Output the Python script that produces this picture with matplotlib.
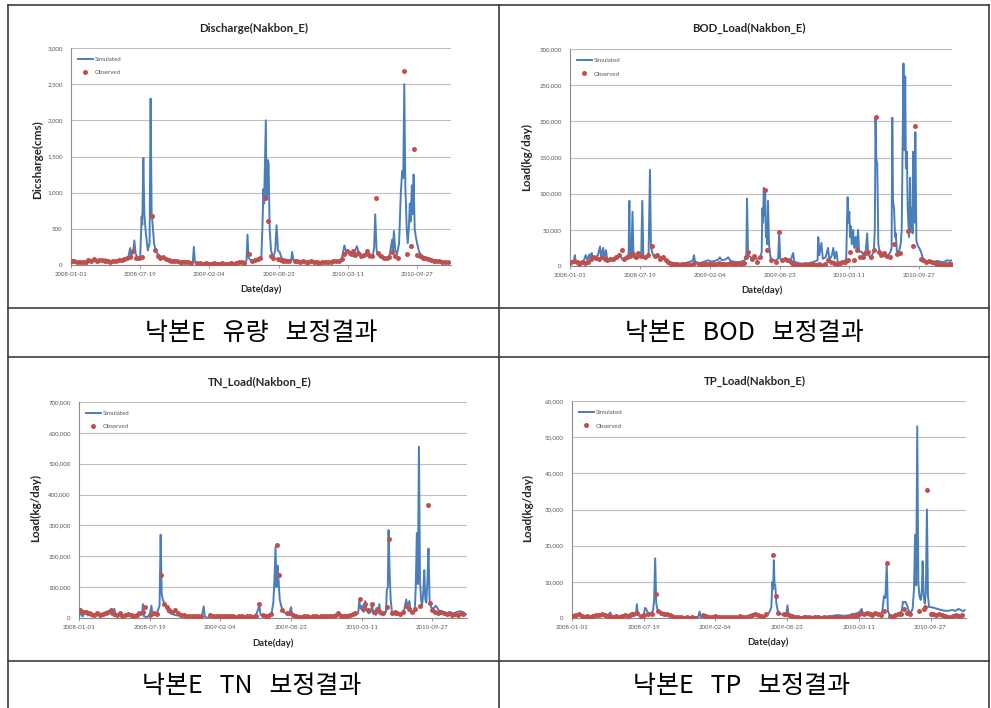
import matplotlib
matplotlib.use("Agg")
import matplotlib.pyplot as plt
from matplotlib.lines import Line2D
from matplotlib.ticker import FuncFormatter

# ---------------------------------------------------------------------------
# Data (x = days since 2008-01-01)
# ---------------------------------------------------------------------------
x_tick_days = [0, 200, 400, 600, 800, 1000]
x_tick_labels = ["2008-01-01", "2008-07-19", "2009-02-04",
                 "2009-08-23", "2010-03-11", "2010-09-27"]

# Discharge (cms)
q_sim = [(0, 40), (10, 55), (20, 45), (30, 40), (40, 35), (50, 45), (60, 55), (70, 50),
         (80, 70), (90, 60), (100, 80), (110, 55), (120, 45), (130, 50), (140, 60), (150, 70),
         (160, 90), (166, 120), (171, 235), (174, 110), (180, 200), (183, 340), (187, 150),
         (195, 90), (200, 110), (204, 670), (206, 560), (209, 1480), (212, 700), (216, 450),
         (222, 200), (227, 300), (230, 2300), (233, 700), (236, 550), (240, 300), (246, 180),
         (255, 130), (265, 100), (280, 80), (295, 65), (310, 55), (325, 50), (340, 45),
         (352, 40), (355, 250), (358, 40), (370, 25), (390, 20), (410, 20), (430, 20),
         (450, 25), (470, 25), (490, 30), (503, 40), (507, 60), (510, 420), (513, 100),
         (520, 60), (530, 50), (540, 60), (550, 90), (553, 500), (556, 1050), (558, 850),
         (563, 2000), (565, 900), (567, 1100), (569, 1450), (571, 1400), (574, 500),
         (578, 200), (584, 100), (590, 200), (594, 550), (598, 200), (603, 180), (608, 100),
         (615, 80), (625, 70), (636, 60), (639, 180), (643, 60), (650, 50), (670, 45),
         (690, 40), (710, 40), (730, 40), (750, 40), (770, 50), (782, 80), (790, 270),
         (795, 180), (802, 200), (808, 130), (815, 120), (826, 260), (831, 180), (838, 150),
         (845, 120), (855, 180), (862, 100), (872, 120), (876, 250), (879, 700), (883, 200),
         (890, 120), (900, 100), (910, 90), (920, 120), (928, 350), (930, 200), (933, 470),
         (937, 200), (942, 150), (948, 300), (953, 1000), (957, 1300), (960, 1200),
         (963, 2500), (966, 1100), (970, 500), (973, 300), (976, 500), (979, 850), (981, 600),
         (985, 1100), (987, 700), (990, 1250), (993, 500), (996, 400), (1000, 300),
         (1006, 180), (1012, 140), (1020, 110), (1035, 80), (1050, 60), (1065, 50),
         (1080, 40), (1095, 35)]
q_obs = [(2, 50), (10, 60), (18, 45), (26, 40), (34, 35), (42, 45), (50, 70), (58, 60),
         (66, 80), (74, 55), (82, 70), (90, 75), (98, 55), (106, 50), (114, 45), (122, 55),
         (130, 60), (138, 65), (146, 75), (154, 80), (162, 100), (170, 110), (180, 200),
         (188, 90), (196, 100), (204, 110), (235, 680), (243, 210), (250, 120), (258, 100),
         (266, 110), (274, 80), (282, 70), (290, 60), (298, 55), (306, 50), (314, 45),
         (322, 40), (330, 40), (338, 35), (346, 30), (365, 25), (373, 25), (381, 20),
         (389, 25), (397, 20), (405, 20), (413, 25), (421, 20), (429, 20), (437, 25),
         (445, 20), (453, 15), (461, 25), (469, 20), (477, 30), (485, 35), (493, 40),
         (501, 30), (514, 150), (523, 60), (531, 70), (539, 80), (547, 90), (561, 930),
         (570, 610), (577, 120), (585, 90), (598, 80), (606, 70), (614, 60), (622, 55),
         (630, 50), (646, 55), (654, 50), (662, 45), (670, 50), (678, 45), (686, 40),
         (694, 50), (702, 45), (710, 40), (718, 30), (726, 35), (734, 35), (742, 40),
         (750, 40), (758, 50), (766, 60), (774, 60), (782, 80), (790, 150), (798, 200),
         (806, 170), (814, 190), (822, 140), (830, 160), (838, 120), (846, 140), (854, 190),
         (862, 140), (870, 120), (880, 920), (888, 160), (896, 130), (904, 100), (912, 90),
         (920, 110), (928, 180), (936, 130), (944, 100), (963, 2680), (971, 150),
         (983, 260), (991, 1600), (1000, 140), (1008, 120), (1016, 100), (1024, 90),
         (1032, 80), (1040, 70), (1048, 60), (1056, 55), (1064, 50), (1072, 45), (1080, 40),
         (1088, 40)]

# BOD load (kg/day)
bod_sim = [(0, 1000), (5, 3000), (10, 5000), (14, 15000), (17, 4000), (25, 6000), (33, 5000),
           (40, 8000), (45, 15000), (50, 8000), (55, 16000), (60, 10000), (62, 18000),
           (66, 8000), (72, 12000), (80, 15000), (86, 27000), (89, 12000), (95, 25000),
           (98, 10000), (103, 22000), (107, 8000), (115, 7000), (125, 8000), (135, 10000),
           (143, 15000), (150, 9000), (158, 12000), (166, 10000), (168, 20000), (170, 90000),
           (172, 12000), (176, 15000), (179, 75000), (182, 12000), (190, 10000), (198, 12000),
           (204, 15000), (207, 90000), (210, 12000), (218, 10000), (225, 15000),
           (229, 133000), (232, 25000), (238, 15000), (248, 12000), (258, 13000),
           (268, 10000), (278, 7000), (290, 5000), (300, 4000), (315, 3000), (330, 4000),
           (345, 6000), (352, 8000), (355, 15000), (358, 6000), (370, 4000), (385, 6000),
           (395, 8000), (405, 6000), (415, 7000), (425, 9000), (429, 12000), (435, 8000),
           (445, 9000), (453, 12000), (460, 7000), (470, 6000), (480, 5000), (490, 6000),
           (500, 8000), (505, 15000), (507, 93000), (510, 15000), (518, 12000),
           (528, 10000), (538, 10000), (546, 12000), (549, 20000), (551, 80000),
           (553, 60000), (555, 108000), (557, 70000), (559, 100000), (561, 40000),
           (563, 50000), (565, 30000), (567, 90000), (570, 30000), (574, 12000),
           (582, 8000), (590, 8000), (596, 10000), (599, 45000), (602, 10000), (612, 7000),
           (622, 6000), (632, 8000), (639, 18000), (642, 6000), (655, 4000), (670, 3000),
           (685, 4000), (700, 6000), (709, 8000), (711, 40000), (714, 15000), (720, 32000),
           (724, 10000), (732, 12000), (739, 25000), (743, 8000), (750, 15000),
           (754, 25000), (758, 10000), (763, 20000), (767, 5000), (775, 4000), (785, 6000),
           (791, 10000), (795, 95000), (798, 60000), (800, 75000), (802, 40000),
           (804, 55000), (807, 30000), (811, 50000), (814, 25000), (818, 40000),
           (821, 20000), (825, 50000), (828, 20000), (835, 20000), (840, 15000),
           (846, 15000), (851, 45000), (854, 15000), (862, 12000), (870, 20000),
           (873, 50000), (875, 205000), (877, 150000), (880, 140000), (883, 30000),
           (887, 18000), (895, 15000), (905, 12000), (912, 15000), (918, 20000),
           (921, 25000), (923, 205000), (925, 90000), (928, 80000), (931, 40000),
           (933, 45000), (936, 20000), (942, 20000), (947, 30000), (950, 50000),
           (952, 140000), (955, 280000), (957, 160000), (960, 262000), (962, 135000),
           (965, 158000), (967, 80000), (969, 60000), (971, 40000), (974, 122000),
           (976, 50000), (979, 80000), (981, 45000), (983, 158000), (985, 100000),
           (987, 60000), (989, 185000), (992, 35000), (996, 28000), (1000, 25000),
           (1005, 20000), (1011, 10000), (1020, 7000), (1030, 6000), (1040, 5000),
           (1050, 7000), (1060, 6000), (1070, 5000), (1080, 8000), (1088, 7000),
           (1094, 8000)]
bod_obs = [(3, 5000), (11, 7000), (19, 6000), (27, 3000), (35, 5000), (43, 4000), (51, 6000),
           (59, 10000), (67, 12000), (75, 11000), (83, 9000), (91, 13000), (99, 9000),
           (107, 8000), (115, 9000), (123, 10000), (131, 12000), (139, 15000), (148, 22000),
           (156, 10000), (164, 12000), (172, 14000), (180, 16000), (188, 12000), (196, 18000),
           (204, 14000), (214, 12000), (222, 15000), (234, 28000), (242, 14000), (250, 15000),
           (258, 10000), (266, 12000), (274, 8000), (282, 5000), (290, 3000), (298, 2500),
           (306, 3000), (314, 2000), (322, 3000), (330, 2500), (338, 3000), (346, 2000),
           (354, 4000), (370, 3000), (378, 3000), (386, 2500), (394, 3000), (402, 3000),
           (410, 2500), (418, 3000), (426, 3500), (434, 3000), (442, 2500), (450, 3000),
           (458, 3500), (466, 2500), (474, 3000), (482, 4000), (490, 3000), (498, 4000),
           (504, 12000), (511, 20000), (520, 10000), (528, 14000), (536, 6000), (544, 12000),
           (559, 105000), (563, 22000), (575, 8000), (590, 6000), (599, 47000), (608, 8000),
           (616, 9000), (624, 8000), (632, 6000), (640, 3000), (648, 2000), (656, 1500),
           (664, 2000), (672, 2500), (680, 2000), (688, 3000), (696, 2500), (704, 2000),
           (712, 3000), (720, 2000), (730, 3000), (740, 8000), (748, 6000), (756, 4000),
           (764, 3000), (772, 4000), (780, 5000), (788, 6000), (796, 8000), (802, 20000),
           (814, 8000), (822, 22000), (830, 12000), (838, 12000), (846, 18000), (854, 20000),
           (862, 12000), (870, 22000), (876, 206000), (884, 20000), (892, 15000),
           (900, 18000), (908, 14000), (916, 12000), (928, 30000), (936, 16000),
           (944, 18000), (968, 48000), (981, 28000), (989, 193000), (1004, 10000),
           (1012, 8000), (1020, 6000), (1028, 7000), (1036, 5000), (1044, 4000),
           (1052, 3000), (1060, 3000), (1068, 2000), (1076, 2500), (1084, 3000),
           (1092, 3000)]

# TN load (kg/day)
tn_sim = [(0, 3000), (5, 20000), (10, 5000), (15, 15000), (20, 22000), (25, 8000),
          (30, 15000), (38, 5000), (45, 12000), (52, 8000), (60, 15000), (68, 10000),
          (75, 20000), (80, 12000), (88, 25000), (93, 10000), (100, 30000), (104, 8000),
          (112, 12000), (120, 8000), (130, 10000), (140, 6000), (150, 12000), (160, 8000),
          (170, 15000), (178, 10000), (181, 45000), (184, 5000), (192, 3000), (200, 10000),
          (205, 40000), (208, 8000), (215, 10000), (222, 20000), (228, 40000),
          (231, 270000), (234, 80000), (237, 60000), (241, 50000), (246, 40000),
          (252, 20000), (260, 15000), (270, 10000), (280, 8000), (290, 5000), (300, 5000),
          (320, 5000), (340, 5000), (348, 8000), (353, 38000), (356, 5000), (362, 1000),
          (375, 2000), (390, 3000), (405, 4000), (420, 3000), (435, 5000), (450, 4000),
          (465, 5000), (480, 4000), (495, 6000), (503, 15000), (510, 40000), (514, 10000),
          (525, 8000), (535, 10000), (545, 15000), (550, 50000), (553, 120000),
          (556, 230000), (559, 100000), (562, 170000), (565, 120000), (568, 60000),
          (572, 40000), (578, 20000), (586, 15000), (594, 10000), (600, 35000),
          (603, 8000), (612, 5000), (625, 4000), (640, 3000), (660, 4000), (680, 5000),
          (700, 6000), (715, 8000), (730, 10000), (740, 12000), (750, 8000), (760, 10000),
          (770, 8000), (780, 12000), (790, 15000), (793, 55000), (797, 30000),
          (802, 40000), (806, 20000), (810, 55000), (814, 25000), (820, 15000),
          (826, 20000), (829, 45000), (833, 15000), (840, 10000), (846, 20000),
          (850, 45000), (853, 12000), (860, 10000), (866, 20000), (869, 20000),
          (871, 90000), (874, 100000), (876, 285000), (879, 150000), (882, 60000),
          (886, 15000), (895, 10000), (905, 12000), (915, 15000), (920, 25000),
          (926, 60000), (929, 40000), (935, 55000), (939, 20000), (945, 15000),
          (950, 20000), (953, 100000), (956, 275000), (959, 110000), (962, 555000),
          (965, 120000), (968, 60000), (971, 40000), (974, 80000), (977, 155000),
          (980, 60000), (983, 50000), (986, 120000), (989, 225000), (992, 60000),
          (996, 35000), (1002, 30000), (1010, 40000), (1018, 25000), (1028, 20000),
          (1040, 15000), (1050, 18000), (1060, 15000), (1070, 20000), (1080, 22000),
          (1088, 18000), (1095, 12000)]
tn_obs = [(3, 25000), (11, 20000), (19, 18000), (27, 15000), (35, 12000), (43, 10000),
          (51, 15000), (59, 10000), (67, 12000), (75, 15000), (83, 20000), (91, 25000),
          (99, 12000), (107, 10000), (115, 15000), (123, 8000), (131, 10000), (139, 12000),
          (147, 10000), (155, 8000), (163, 10000), (171, 15000), (180, 20000), (187, 35000),
          (200, 10000), (212, 15000), (220, 12000), (233, 140000), (240, 45000),
          (248, 35000), (256, 25000), (264, 20000), (272, 25000), (280, 15000),
          (288, 10000), (296, 10000), (304, 8000), (312, 8000), (320, 8000), (328, 8000),
          (336, 8000), (344, 8000), (372, 10000), (380, 8000), (388, 6000), (396, 8000),
          (404, 6000), (412, 5000), (420, 8000), (428, 6000), (436, 5000), (444, 4000),
          (452, 6000), (460, 5000), (468, 4000), (476, 6000), (484, 5000), (492, 3000),
          (500, 8000), (510, 45000), (520, 10000), (528, 8000), (536, 5000), (544, 12000),
          (561, 235000), (567, 140000), (575, 25000), (590, 15000), (597, 15000),
          (606, 10000), (614, 5000), (622, 4000), (630, 3000), (638, 5000), (646, 6000),
          (654, 4000), (662, 5000), (670, 6000), (678, 4000), (686, 5000), (694, 8000),
          (702, 6000), (710, 5000), (718, 8000), (726, 10000), (734, 15000), (742, 8000),
          (750, 5000), (758, 6000), (766, 10000), (774, 12000), (782, 15000), (796, 60000),
          (803, 30000), (810, 45000), (818, 25000), (828, 45000), (836, 20000),
          (844, 30000), (852, 20000), (860, 15000), (871, 35000), (878, 255000),
          (885, 15000), (893, 20000), (901, 15000), (909, 12000), (917, 20000),
          (926, 40000), (934, 30000), (942, 20000), (950, 30000), (965, 40000),
          (989, 365000), (993, 50000), (1000, 25000), (1008, 20000), (1016, 15000),
          (1024, 18000), (1032, 15000), (1040, 12000), (1048, 15000), (1056, 10000),
          (1064, 12000), (1072, 10000), (1080, 15000), (1088, 12000)]

# TP load (kg/day)
tp_sim = [(0, 200), (6, 1000), (12, 500), (20, 800), (28, 400), (36, 600), (44, 300),
          (52, 500), (60, 900), (68, 600), (76, 1000), (84, 700), (92, 500), (100, 800),
          (107, 1500), (110, 400), (120, 500), (130, 300), (140, 600), (150, 400),
          (160, 700), (168, 1500), (172, 600), (178, 1000), (181, 3800), (184, 800),
          (190, 500), (200, 1000), (204, 2800), (207, 2500), (211, 1500), (218, 1200),
          (226, 2000), (229, 5000), (232, 16500), (235, 4000), (238, 2500), (244, 1500),
          (252, 1000), (262, 700), (272, 400), (285, 200), (300, 150), (320, 150),
          (340, 200), (352, 300), (356, 1800), (359, 200), (375, 100), (390, 200),
          (410, 300), (430, 200), (450, 300), (470, 200), (490, 300), (505, 500),
          (515, 1000), (525, 800), (540, 500), (550, 1500), (556, 3000), (559, 10000),
          (561, 8000), (563, 16000), (565, 9500), (567, 9000), (570, 4000), (574, 2000),
          (580, 1200), (590, 800), (598, 1000), (601, 3500), (604, 1000), (612, 500),
          (625, 300), (640, 200), (660, 300), (680, 400), (700, 300), (720, 500),
          (740, 800), (760, 600), (775, 800), (790, 1200), (800, 1500), (808, 2500),
          (812, 800), (820, 1000), (830, 1500), (840, 1200), (850, 800), (860, 1000),
          (866, 2000), (870, 6000), (874, 5500), (878, 15000), (881, 2000), (886, 800),
          (895, 600), (905, 800), (915, 1500), (920, 2000), (923, 4500), (926, 4300),
          (930, 4500), (935, 3500), (939, 2000), (945, 1500), (950, 2500), (954, 8000),
          (957, 23000), (960, 9000), (963, 53000), (966, 10000), (969, 6000), (973, 5000),
          (976, 8000), (978, 15700), (981, 6000), (984, 4000), (987, 7000), (990, 30000),
          (993, 6000), (996, 3000), (1002, 3000), (1010, 2800), (1020, 2500),
          (1030, 2200), (1040, 2000), (1050, 2000), (1060, 2200), (1070, 2000),
          (1078, 2500), (1085, 2200), (1090, 1800), (1095, 2200)]
tp_obs = [(3, 500), (11, 800), (19, 1000), (27, 600), (35, 400), (43, 500), (51, 300),
          (59, 600), (67, 800), (75, 900), (83, 1000), (91, 700), (99, 500), (107, 600),
          (115, 400), (123, 500), (131, 300), (139, 500), (147, 700), (155, 600),
          (163, 800), (171, 1000), (181, 1500), (192, 600), (200, 800), (212, 1000),
          (222, 1200), (234, 6500), (240, 2000), (248, 1500), (256, 1200), (264, 1000),
          (272, 800), (280, 500), (288, 300), (296, 200), (304, 200), (312, 100),
          (320, 200), (328, 100), (336, 200), (344, 100), (366, 800), (374, 600),
          (382, 400), (390, 300), (398, 500), (406, 300), (414, 200), (422, 300),
          (430, 400), (438, 300), (446, 200), (454, 400), (462, 300), (470, 500),
          (478, 300), (486, 400), (494, 600), (502, 800), (510, 1200), (518, 800),
          (526, 500), (534, 300), (542, 1000), (562, 17500), (568, 6000), (575, 1500),
          (590, 1000), (598, 1200), (606, 800), (614, 500), (622, 300), (630, 200),
          (638, 100), (646, 200), (654, 300), (662, 200), (670, 100), (678, 200),
          (686, 150), (694, 100), (702, 200), (710, 100), (718, 300), (726, 100),
          (734, 200), (742, 100), (750, 200), (758, 100), (766, 300), (774, 200),
          (782, 800), (790, 500), (798, 800), (806, 1500), (814, 1000), (822, 1500),
          (830, 1200), (838, 800), (846, 1500), (854, 1000), (862, 800), (870, 2000),
          (878, 15300), (886, 500), (894, 400), (902, 800), (910, 1000), (918, 1200),
          (926, 2500), (934, 1500), (942, 1000), (969, 2000), (982, 2500), (985, 3000),
          (989, 35300), (1000, 1200), (1008, 1000), (1016, 800), (1024, 1200),
          (1032, 900), (1040, 600), (1048, 400), (1056, 300), (1064, 500), (1072, 800),
          (1080, 600), (1088, 700)]

titles = ["Discharge(Nakbon_E)", "BOD_Load(Nakbon_E)", "TN_Load(Nakbon_E)", "TP_Load(Nakbon_E)"]
y_labels = ["Dicsharge(cms)", "Load(kg/day)", "Load(kg/day)", "Load(kg/day)"]
y_max = [3000, 300000, 700000, 60000]
y_step = [500, 50000, 100000, 10000]
captions = ["낙본E   유량   보정결과", "낙본E   BOD   보정결과", "낙본E   TN   보정결과", "낙본E   TP   보정결과"]
legend_labels = ["Simulated", "Observed"]

# ---------------------------------------------------------------------------
# Layout (pixel coordinates on a 991 x 708 canvas)
# ---------------------------------------------------------------------------
W, H = 991, 708
fig = plt.figure(figsize=(W / 100, H / 100), dpi=100)
fig.patch.set_facecolor("white")

FONT = "Lato"
SIM_COLOR = "#4A7EBB"
OBS_COLOR = "#C0504D"
TXT_COLOR = "#595959"

# plot rectangle: left, top, right, bottom
plot_boxes = [(71, 48, 451, 265), (570, 49, 952, 266),
              (79, 402, 467, 618), (572, 401, 966, 618)]
title_pos = [(254, 28), (749, 28), (260, 382), (755, 381)]
ylabel_pos = [(38, 160), (527, 157), (36, 508), (528, 508)]
xlabel_pos = [(261, 289), (762, 290), (273, 643), (768, 642)]
caption_pos = [(261, 333), (744, 333), (252, 686), (742, 686)]
x_span = [1098, 1094, 1098, 1099]

series = [(q_sim, q_obs), (bod_sim, bod_obs), (tn_sim, tn_obs), (tp_sim, tp_obs)]


def fx(x):
    return x / W


def fy(y):
    return 1 - y / H


thousands = FuncFormatter(lambda v, _: f"{v:,.0f}")

for i, (sim, obs) in enumerate(series):
    l, t, r, b = plot_boxes[i]
    ax = fig.add_axes([fx(l), fy(b), (r - l) / W, (b - t) / H])
    sd, sv = zip(*sim)
    od, ov = zip(*obs)
    ax.plot(sd, sv, color=SIM_COLOR, lw=1.4, label=legend_labels[0], zorder=3)
    ax.plot(od, ov, ls="none", marker="o", ms=3.6, mfc=OBS_COLOR, mec="none",
            label=legend_labels[1], zorder=4)

    ax.set_xlim(0, x_span[i])
    ax.set_ylim(0, y_max[i])
    ax.set_xticks(x_tick_days)
    ax.set_xticklabels(x_tick_labels)
    ax.set_yticks(range(0, y_max[i] + 1, y_step[i]))
    ax.yaxis.set_major_formatter(thousands)
    ax.grid(axis="y", color="#BEBEBE", lw=0.8)
    ax.set_axisbelow(True)
    for side in ("top", "right"):
        ax.spines[side].set_visible(False)
    for side in ("left", "bottom"):
        ax.spines[side].set_color("#8C8C8C")
        ax.spines[side].set_linewidth(0.8)
    ax.tick_params(axis="x", length=2, width=0.6, color="#8C8C8C", pad=3,
                   labelsize=4.4, labelcolor=TXT_COLOR)
    ax.tick_params(axis="y", length=0, pad=6, labelsize=4.4, labelcolor=TXT_COLOR)
    for lab in ax.get_xticklabels() + ax.get_yticklabels():
        lab.set_fontfamily(FONT)

    ax.legend(loc="upper left", bbox_to_anchor=(7 / (r - l), 1 - 9 / (b - t)),
              frameon=False, prop={"family": FONT, "size": 4.4},
              labelcolor=TXT_COLOR, handlelength=2.4, handletextpad=0.3,
              labelspacing=1.3, borderaxespad=0, borderpad=0)

    tx, ty = title_pos[i]
    fig.text(fx(tx), fy(ty), titles[i], ha="center", va="center",
             fontfamily=FONT, fontweight="bold", fontsize=8.2, color="#262626")
    yx, yy = ylabel_pos[i]
    fig.text(fx(yx), fy(yy), y_labels[i], ha="center", va="center", rotation=90,
             fontfamily=FONT, fontweight="bold", fontsize=8.4, color="#262626")
    xx, xy = xlabel_pos[i]
    fig.text(fx(xx), fy(xy), "Date(day)", ha="center", va="center",
             fontfamily=FONT, fontweight="bold", fontsize=6.8, color="#262626")
    cx, cy = caption_pos[i]
    fig.text(fx(cx), fy(cy), captions[i], ha="center", va="center",
             fontfamily=["Noto Sans CJK KR", "DejaVu Sans"], fontsize=18, color="black")

# Table rules
rule_kw = dict(color="#3C3C3C", lw=1.2, transform=fig.transFigure)
h_rules = [(5, 8, 989), (308, 8, 989), (357, 8, 989), (661, 8, 989)]
v_rules = [(8, 5, 708), (499, 5, 708), (989, 5, 708)]
for y, x0, x1 in h_rules:
    fig.add_artist(Line2D([fx(x0), fx(x1)], [fy(y), fy(y)], **rule_kw))
for x, y0, y1 in v_rules:
    fig.add_artist(Line2D([fx(x), fx(x)], [fy(y0), fy(y1)], **rule_kw))

fig.savefig("out.png", dpi=100, facecolor="white")
